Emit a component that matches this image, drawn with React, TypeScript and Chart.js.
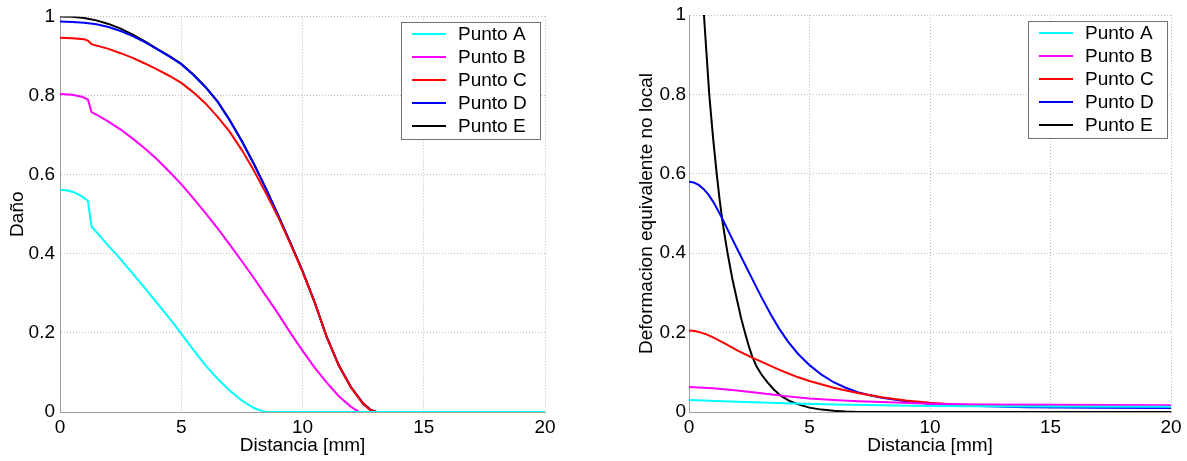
import React, { useEffect, useRef } from "react";
import { Chart, registerables } from "chart.js";

Chart.register(...registerables);

// ---------- shared labels / ticks ----------
const seriesLabels = ["Punto A", "Punto B", "Punto C", "Punto D", "Punto E"];
const seriesColors = ["#00ffff", "#ff00ff", "#ff0000", "#0000ff", "#000000"];
const xAxisTitle = "Distancia [mm]";
const leftYAxisTitle = "Daño";
const rightYAxisTitle = "Deformacion equivalente no local";
const xStep = 5;
const yStep = 0.2;

// ---------- left chart: Daño ----------
const damageAX = [0, 0.3, 0.6, 0.9, 1.15, 1.3, 2, 2.34, 3, 3.5, 4, 4.54, 5, 5.5, 6, 6.5, 7, 7.5, 8, 8.25, 8.5, 20];
const damageAY = [0.562, 0.56, 0.555, 0.545, 0.534, 0.469, 0.42, 0.397, 0.35, 0.313, 0.275, 0.235, 0.198, 0.157, 0.118, 0.084, 0.054, 0.029, 0.01, 0.004, 0, 0];

const damageBX = [0, 0.5, 0.9, 1.15, 1.3, 1.5, 2, 2.5, 3, 3.5, 4, 4.5, 5, 5.5, 6, 6.5, 7, 7.5, 8, 8.5, 9, 9.5, 10, 10.5, 11, 11.5, 12, 12.35, 20];
const damageBY = [0.804, 0.802, 0.797, 0.79, 0.758, 0.752, 0.734, 0.714, 0.691, 0.666, 0.639, 0.608, 0.576, 0.54, 0.503, 0.464, 0.423, 0.381, 0.338, 0.293, 0.248, 0.2, 0.155, 0.112, 0.074, 0.04, 0.013, 0, 0];

const damageCX = [0, 0.5, 1, 1.15, 1.3, 2, 2.5, 3, 3.5, 4, 4.5, 5, 5.5, 6, 6.5, 7, 7.5, 8, 8.5, 9, 9.5, 10, 10.5, 11, 11.5, 12, 12.5, 12.8, 13.05, 20];
const damageCY = [0.946, 0.945, 0.942, 0.939, 0.93, 0.918, 0.907, 0.895, 0.881, 0.866, 0.85, 0.832, 0.808, 0.78, 0.746, 0.708, 0.662, 0.61, 0.552, 0.492, 0.425, 0.355, 0.277, 0.189, 0.117, 0.062, 0.021, 0.005, 0, 0];

const damageDX = [0, 0.5, 1, 1.5, 2, 2.5, 3, 3.5, 4, 4.5, 5, 5.5, 6, 6.5, 7, 7.5, 8, 8.5, 9, 9.5, 10, 10.5, 11, 11.5, 12, 12.5, 12.8, 13.05, 20];
const damageDY = [0.987, 0.986, 0.984, 0.98, 0.973, 0.963, 0.95, 0.935, 0.917, 0.899, 0.879, 0.852, 0.821, 0.784, 0.737, 0.684, 0.626, 0.563, 0.496, 0.427, 0.356, 0.277, 0.189, 0.117, 0.062, 0.021, 0.005, 0, 0];

const damageEX = [0, 0.5, 1, 1.5, 2, 2.5, 3, 3.5, 4, 4.5, 5, 5.5, 6, 6.5, 7, 7.5, 8, 8.5, 9, 9.5, 10, 10.5, 11, 11.5, 12, 12.5, 12.8, 13.05, 20];
const damageEY = [1.0, 0.999, 0.996, 0.99, 0.981, 0.969, 0.954, 0.937, 0.918, 0.9, 0.88, 0.853, 0.822, 0.785, 0.738, 0.685, 0.627, 0.564, 0.497, 0.428, 0.357, 0.278, 0.19, 0.118, 0.063, 0.022, 0.006, 0, 0];

// ---------- right chart: Deformacion equivalente no local ----------
const strainAX = [0, 2, 4, 6, 8, 10, 14, 20];
const strainAY = [0.03, 0.026, 0.022, 0.019, 0.017, 0.015, 0.014, 0.013];

const strainBX = [0, 1, 2, 3, 4, 5, 6, 7, 8, 10, 12, 15, 20];
const strainBY = [0.063, 0.06, 0.054, 0.047, 0.04, 0.034, 0.03, 0.027, 0.025, 0.021, 0.019, 0.018, 0.017];

const strainCX = [0, 0.25, 0.5, 0.75, 1, 1.5, 2, 2.62, 3, 3.5, 4, 4.5, 5, 6, 7, 8, 9, 10, 11, 12, 14, 20];
const strainCY = [0.205, 0.204, 0.2, 0.195, 0.188, 0.172, 0.155, 0.137, 0.127, 0.113, 0.1, 0.088, 0.078, 0.061, 0.048, 0.037, 0.029, 0.023, 0.019, 0.017, 0.016, 0.015];

const strainDX = [0, 0.2, 0.4, 0.6, 0.8, 1, 1.2, 1.4, 1.6, 1.8, 2.09, 2.5, 3, 3.4, 3.74, 4.1, 4.5, 5, 5.5, 6, 6.5, 7, 7.5, 8, 9, 10, 11, 12, 14, 17, 20];
const strainDY = [0.58, 0.578, 0.572, 0.562, 0.548, 0.53, 0.508, 0.485, 0.46, 0.435, 0.4, 0.35, 0.29, 0.245, 0.21, 0.178, 0.148, 0.118, 0.094, 0.075, 0.061, 0.05, 0.042, 0.036, 0.027, 0.021, 0.017, 0.015, 0.012, 0.011, 0.01];

const strainEX = [0, 0.5, 0.62, 0.73, 0.84, 1, 1.15, 1.27, 1.39, 1.5, 1.6, 1.8, 2, 2.16, 2.32, 2.47, 2.62, 2.8, 3, 3.25, 3.5, 3.8, 4.2, 4.6, 5, 5.5, 6, 6.5, 7, 20];
const strainEY = [1.6, 1.1, 1.0, 0.9, 0.8, 0.69, 0.6, 0.535, 0.48, 0.437, 0.4, 0.335, 0.28, 0.237, 0.2, 0.168, 0.14, 0.115, 0.095, 0.075, 0.058, 0.041, 0.027, 0.018, 0.011, 0.006, 0.003, 0.001, 0, 0];

const leftXs = [damageAX, damageBX, damageCX, damageDX, damageEX];
const leftYs = [damageAY, damageBY, damageCY, damageDY, damageEY];
const rightXs = [strainAX, strainBX, strainCX, strainDX, strainEX];
const rightYs = [strainAY, strainBY, strainCY, strainDY, strainEY];

const FONT_FAMILY = '"Liberation Sans", Arial, Helvetica, sans-serif';
const FONT_SIZE = 19;

function buildDatasets(xsList: number[][], ysList: number[][]) {
  return seriesLabels.map((label, i) => ({
    label,
    data: xsList[i].map((x, j) => ({ x, y: ysList[i][j] })),
    borderColor: seriesColors[i],
    backgroundColor: seriesColors[i],
    borderWidth: 2,
    pointRadius: 0,
    pointHoverRadius: 0,
    fill: false,
    tension: 0,
  }));
}

const boxLegendPlugin = {
  id: "boxLegend",
  afterDraw(chart: any, _args: any, opts: any) {
    const { ctx, chartArea } = chart;
    const w = opts.width;
    const h = opts.height;
    const x0 = Math.round(chartArea.right - opts.right - w);
    const y0 = Math.round(chartArea.top + opts.top);
    ctx.save();
    ctx.fillStyle = "#ffffff";
    ctx.fillRect(x0, y0, w, h);
    ctx.strokeStyle = "#707070";
    ctx.lineWidth = 1;
    ctx.strokeRect(x0 + 0.5, y0 + 0.5, w, h);
    ctx.font = `${FONT_SIZE}px ${FONT_FAMILY}`;
    ctx.textBaseline = "middle";
    ctx.textAlign = "left";
    chart.data.datasets.forEach((ds: any, i: number) => {
      const cy = y0 + opts.firstRow + i * opts.rowGap;
      ctx.strokeStyle = ds.borderColor;
      ctx.lineWidth = 2;
      ctx.beginPath();
      ctx.moveTo(x0 + 11, cy);
      ctx.lineTo(x0 + 45, cy);
      ctx.stroke();
      ctx.fillStyle = "#000000";
      ctx.fillText(ds.label, x0 + 57, cy + 1);
    });
    ctx.restore();
  },
};

type PanelProps = {
  xs: number[][];
  ys: number[][];
  yTitle: string;
  left: number;
  width: number;
  yAxisWidth: number;
  yTitlePad: number;
  yTickPad: number;
  padRight: number;
  legendRight: number;
};

function Panel(props: PanelProps) {
  const ref = useRef<HTMLCanvasElement | null>(null);
  useEffect(() => {
    if (!ref.current) return;
    const font = { family: FONT_FAMILY, size: FONT_SIZE };
    const gridColor = "#bdbdbd";
    const chart = new Chart(ref.current, {
      type: "line",
      data: { datasets: buildDatasets(props.xs, props.ys) as any },
      plugins: [boxLegendPlugin as any],
      options: {
        animation: false,
        responsive: false,
        events: [],
        layout: { padding: { top: 15, right: props.padRight, bottom: 0, left: 0 } },
        scales: {
          x: {
            type: "linear",
            min: 0,
            max: 20,
            afterFit: (s: any) => {
              s.height = 49;
            },
            grid: { color: gridColor, lineWidth: 1, drawTicks: false },
            border: { display: true, color: "#a0a0a0", width: 1, dash: [1, 2] },
            ticks: { stepSize: xStep, padding: 4, color: "#000", font, maxRotation: 0, autoSkip: false },
            title: { display: true, text: xAxisTitle, color: "#000", font, padding: { top: 0, bottom: 4 } },
          },
          y: {
            type: "linear",
            min: 0,
            max: 1,
            afterFit: (s: any) => {
              s.width = props.yAxisWidth;
            },
            grid: { color: gridColor, lineWidth: 1, drawTicks: false },
            border: { display: true, color: "#a0a0a0", width: 1, dash: [1, 2] },
            ticks: {
              stepSize: yStep,
              padding: props.yTickPad,
              color: "#000",
              font,
              autoSkip: false,
              callback: (v: any) => Number(v).toFixed(1).replace(/\.0$/, ""),
            },
            title: { display: true, text: props.yTitle, color: "#000", font, padding: { top: props.yTitlePad, bottom: 0 } },
          },
        },
        plugins: {
          legend: { display: false },
          tooltip: { enabled: false },
          boxLegend: { width: 139, height: 117, right: props.legendRight, top: 6, firstRow: 12, rowGap: 23 },
        } as any,
      } as any,
    });
    return () => chart.destroy();
  }, []);
  return (
    <canvas
      ref={ref}
      width={props.width}
      height={461}
      style={{ position: "absolute", left: props.left, top: 0, width: props.width, height: 461, display: "block" }}
    />
  );
}

export default function App() {
  return (
    <div style={{ position: "absolute", left: 0, top: 0, width: 1187, height: 461, background: "#ffffff", overflow: "hidden" }}>
      <Panel
        xs={leftXs}
        ys={leftYs}
        yTitle={leftYAxisTitle}
        left={0}
        width={593}
        yAxisWidth={60}
        yTitlePad={6}
        yTickPad={5}
        padRight={48}
        legendRight={5}
      />
      <Panel
        xs={rightXs}
        ys={rightYs}
        yTitle={rightYAxisTitle}
        left={593}
        width={594}
        yAxisWidth={96}
        yTitlePad={42.5}
        yTickPad={3}
        padRight={16}
        legendRight={4}
      />
    </div>
  );
}
